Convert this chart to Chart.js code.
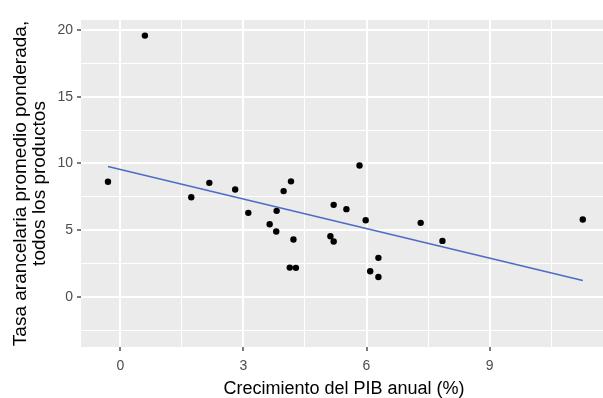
<!DOCTYPE html>
<html>
<head>
<meta charset="utf-8">
<script src="https://cdn.jsdelivr.net/npm/chart.js@4"></script>
<style>
  html, body { margin: 0; padding: 0; background: #fff; overflow: hidden; }
  #wrap { width: 611px; height: 398px; }
</style>
</head>
<body>
<div id="wrap"><canvas id="tasaChart" width="611" height="398"></canvas></div>
<script>
// Datos
const crecimientoPIB = [-0.30, 0.60, 1.73, 2.17, 2.80, 3.12, 3.64, 3.80, 3.81, 3.98, 4.16, 4.22, 4.13, 4.28,
  5.83, 5.20, 5.51, 5.98, 5.12, 5.20, 6.29, 6.09, 6.29, 7.32, 7.85, 11.27];
const tasaArancelaria = [8.63, 19.58, 7.47, 8.55, 8.05, 6.30, 5.45, 4.90, 6.45, 7.93, 8.66, 4.30, 2.20, 2.18,
  9.85, 6.90, 6.58, 5.75, 4.55, 4.15, 2.93, 1.93, 1.50, 5.55, 4.20, 5.80];

// Recta de tendencia (extremos)
const tendenciaX = [-0.30, 11.27];
const tendenciaY = [9.78, 1.23];

// Marcas de los ejes (mayores con etiqueta, menores solo rejilla)
const xTicks = [0, 1.5, 3, 4.5, 6, 7.5, 9, 10.5];
const xMayores = [0, 3, 6, 9];
const yTicks = [-2.5, 0, 2.5, 5, 7.5, 10, 12.5, 15, 17.5, 20];
const yMayores = [0, 5, 10, 15, 20];

const puntos = crecimientoPIB.map((x, i) => ({ x: x, y: tasaArancelaria[i] }));
const tendencia = tendenciaX.map((x, i) => ({ x: x, y: tendenciaY[i] }));

// Fondo gris del panel
const fondoPanel = {
  id: 'fondoPanel',
  beforeDraw(chart) {
    const { ctx, chartArea } = chart;
    ctx.save();
    ctx.fillStyle = '#EBEBEB';
    ctx.fillRect(chartArea.left, chartArea.top, chartArea.right - chartArea.left, chartArea.bottom - chartArea.top);
    ctx.restore();
  }
};

function gridConf(mayores) {
  const esMayor = ctx => ctx.tick && mayores.includes(ctx.tick.value);
  return {
    color: '#FFFFFF',
    lineWidth: ctx => esMayor(ctx) ? 2 : 1,
    drawTicks: true,
    tickLength: 4,
    tickWidth: 1.3,
    tickColor: ctx => esMayor(ctx) ? '#333333' : 'rgba(0,0,0,0)'
  };
}

new Chart(document.getElementById('tasaChart'), {
  type: 'scatter',
  data: {
    datasets: [
      {
        type: 'line',
        data: tendencia,
        borderColor: '#4d6cc4',
        borderWidth: 1.6,
        pointRadius: 0,
        fill: false,
        showLine: true
      },
      {
        data: puntos,
        backgroundColor: '#000000',
        borderWidth: 0,
        pointRadius: 3.2
      }
    ]
  },
  plugins: [fondoPanel],
  options: {
    responsive: false,
    animation: false,
    devicePixelRatio: 1,
    layout: { padding: { top: 20, left: 0, right: 0, bottom: 0 } },
    plugins: {
      legend: { display: false },
      tooltip: { enabled: false }
    },
    scales: {
      x: {
        type: 'linear',
        min: -0.957,
        max: 11.86,
        afterBuildTicks: scale => { scale.ticks = xTicks.map(v => ({ value: v })); },
        afterFit: scale => { scale.height = 51; },
        grid: gridConf(xMayores),
        border: { display: false },
        ticks: {
          autoSkip: false,
          maxRotation: 0,
          padding: 7,
          color: '#4D4D4D',
          font: { family: 'Liberation Sans', size: 14 },
          callback: v => xMayores.includes(v) ? String(v) : ''
        },
        title: {
          display: true,
          text: 'Crecimiento del PIB anual (%)',
          color: '#000000',
          font: { family: 'Liberation Sans', size: 18, lineHeight: 1 },
          padding: { top: 0, bottom: 0 }
        }
      },
      y: {
        type: 'linear',
        min: -3.75,
        max: 20.75,
        afterBuildTicks: scale => { scale.ticks = yTicks.map(v => ({ value: v })); },
        afterFit: scale => { scale.width = 81; },
        grid: gridConf(yMayores),
        border: { display: false },
        ticks: {
          autoSkip: false,
          padding: 4,
          color: '#4D4D4D',
          font: { family: 'Liberation Sans', size: 14 },
          callback: v => yMayores.includes(v) ? String(v) : ''
        },
        title: {
          display: true,
          text: ['Tasa arancelaria promedio ponderada,', 'todos los productos'],
          color: '#000000',
          font: { family: 'Liberation Sans', size: 19, lineHeight: 1 },
          padding: { top: 11, bottom: 0 }
        }
      }
    }
  }
});
</script>
</body>
</html>
